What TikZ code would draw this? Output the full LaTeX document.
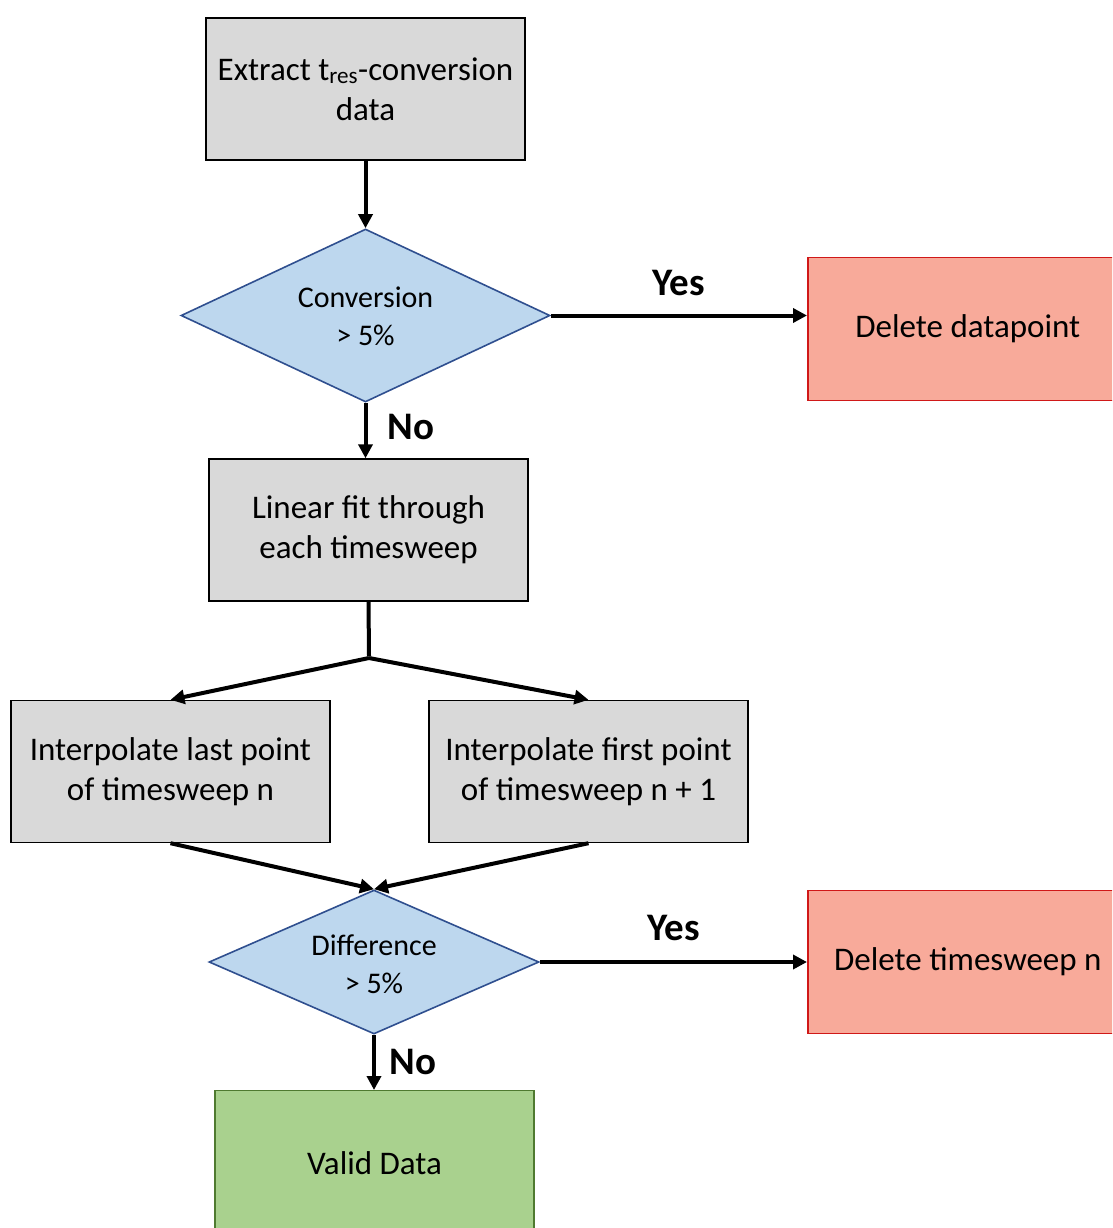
\documentclass[tikz,border=0pt]{standalone}
\usepackage{fontspec}
\setmainfont{Carlito}
\usetikzlibrary{shapes.geometric,arrows.meta}
\definecolor{boxgray}{HTML}{D9D9D9}
\definecolor{decblue}{HTML}{BDD7EE}
\definecolor{decborder}{HTML}{2F4F8F}
\definecolor{delfill}{HTML}{F8AA9A}
\definecolor{delborder}{HTML}{D01818}
\definecolor{okfill}{HTML}{A9D18E}
\definecolor{okborder}{HTML}{4F7A30}
\tikzset{
  procbox/.style={draw=black, line width=1.4pt, fill=boxgray, minimum width=319pt, minimum height=142pt, inner sep=0pt, align=center, font=\fontsize{33}{40}\selectfont},
  decision/.style={diamond, draw=decborder, line width=1.6pt, fill=decblue, inner sep=0pt},
  dectext/.style={align=center, inner sep=0pt, font=\fontsize{30}{38}\selectfont},
  delbox/.style={draw=delborder, line width=1.6pt, fill=delfill, minimum width=330pt, minimum height=143pt, inner sep=0pt, align=center, font=\fontsize{33}{40}\selectfont},
  okbox/.style={draw=okborder, line width=1.4pt, fill=okfill, minimum width=319pt, minimum height=144pt, inner sep=0pt, align=center, font=\fontsize{33}{40}\selectfont},
  flow/.style={line width=4pt, -{Triangle[length=14pt,width=14pt]}},
  plainflow/.style={line width=4pt},
  answer/.style={font=\fontsize{39}{44}\selectfont\bfseries}
}
\begin{document}
\begin{tikzpicture}[x=1pt,y=-1pt]
\useasboundingbox (0,0) rectangle (1112,1228);
\clip (0,0) rectangle (1112,1228);
\node[procbox] (extract) at (365.5,89) {Extract t\textsubscript{res}-conversion\\data};
\node[decision, minimum width=369pt, minimum height=173pt] (conv) at (365.5,315.5) {};
\node[dectext] (convtext) at (365.5,316) {Conversion\\> 5\%};
\node[delbox, anchor=west] (deldp) at (807,329) {\hspace*{-10pt}\raisebox{-3pt}{Delete datapoint}};
\node[procbox] (linfit) at (368.5,530) {Linear fit through\\each timesweep};
\coordinate (split) at (369,658);
\node[procbox] (interpL) at (170.5,771.5) {Interpolate last point\\of timesweep n};
\node[procbox] (interpR) at (588.5,771.5) {Interpolate first point\\of timesweep n + 1};
\node[decision, minimum width=330pt, minimum height=144pt] (diff) at (374,962) {};
\node[dectext] (difftext) at (374,964) {Difference\\> 5\%};
\node[delbox, anchor=west] (delts) at (807,962) {\hspace*{-10pt}Delete timesweep n};
\node[okbox, anchor=north] (valid) at (374.5,1090) {Valid Data};
\draw[flow] (extract.south) -- (conv.north);
\draw[flow] (conv.east) -- node[answer, above=14pt] {Yes} (conv.east -| deldp.west);
\draw[flow] (conv.south) -- node[answer, right=17pt, yshift=4pt] {No} (conv.south |- linfit.north);
\draw[plainflow] (linfit.south) -- ([yshift=2pt]split);
\draw[flow] (split) -- (interpL.north);
\draw[flow] (split) -- (interpR.north);
\draw[flow] (interpL.south) -- (diff.north);
\draw[flow] (interpR.south) -- (diff.north);
\draw[flow] (diff.east) -- node[answer, above=16pt] {Yes} (delts.west);
\draw[flow] (diff.south) -- node[answer, right=10pt] {No} (diff.south |- valid.north);
\end{tikzpicture}
\end{document}
